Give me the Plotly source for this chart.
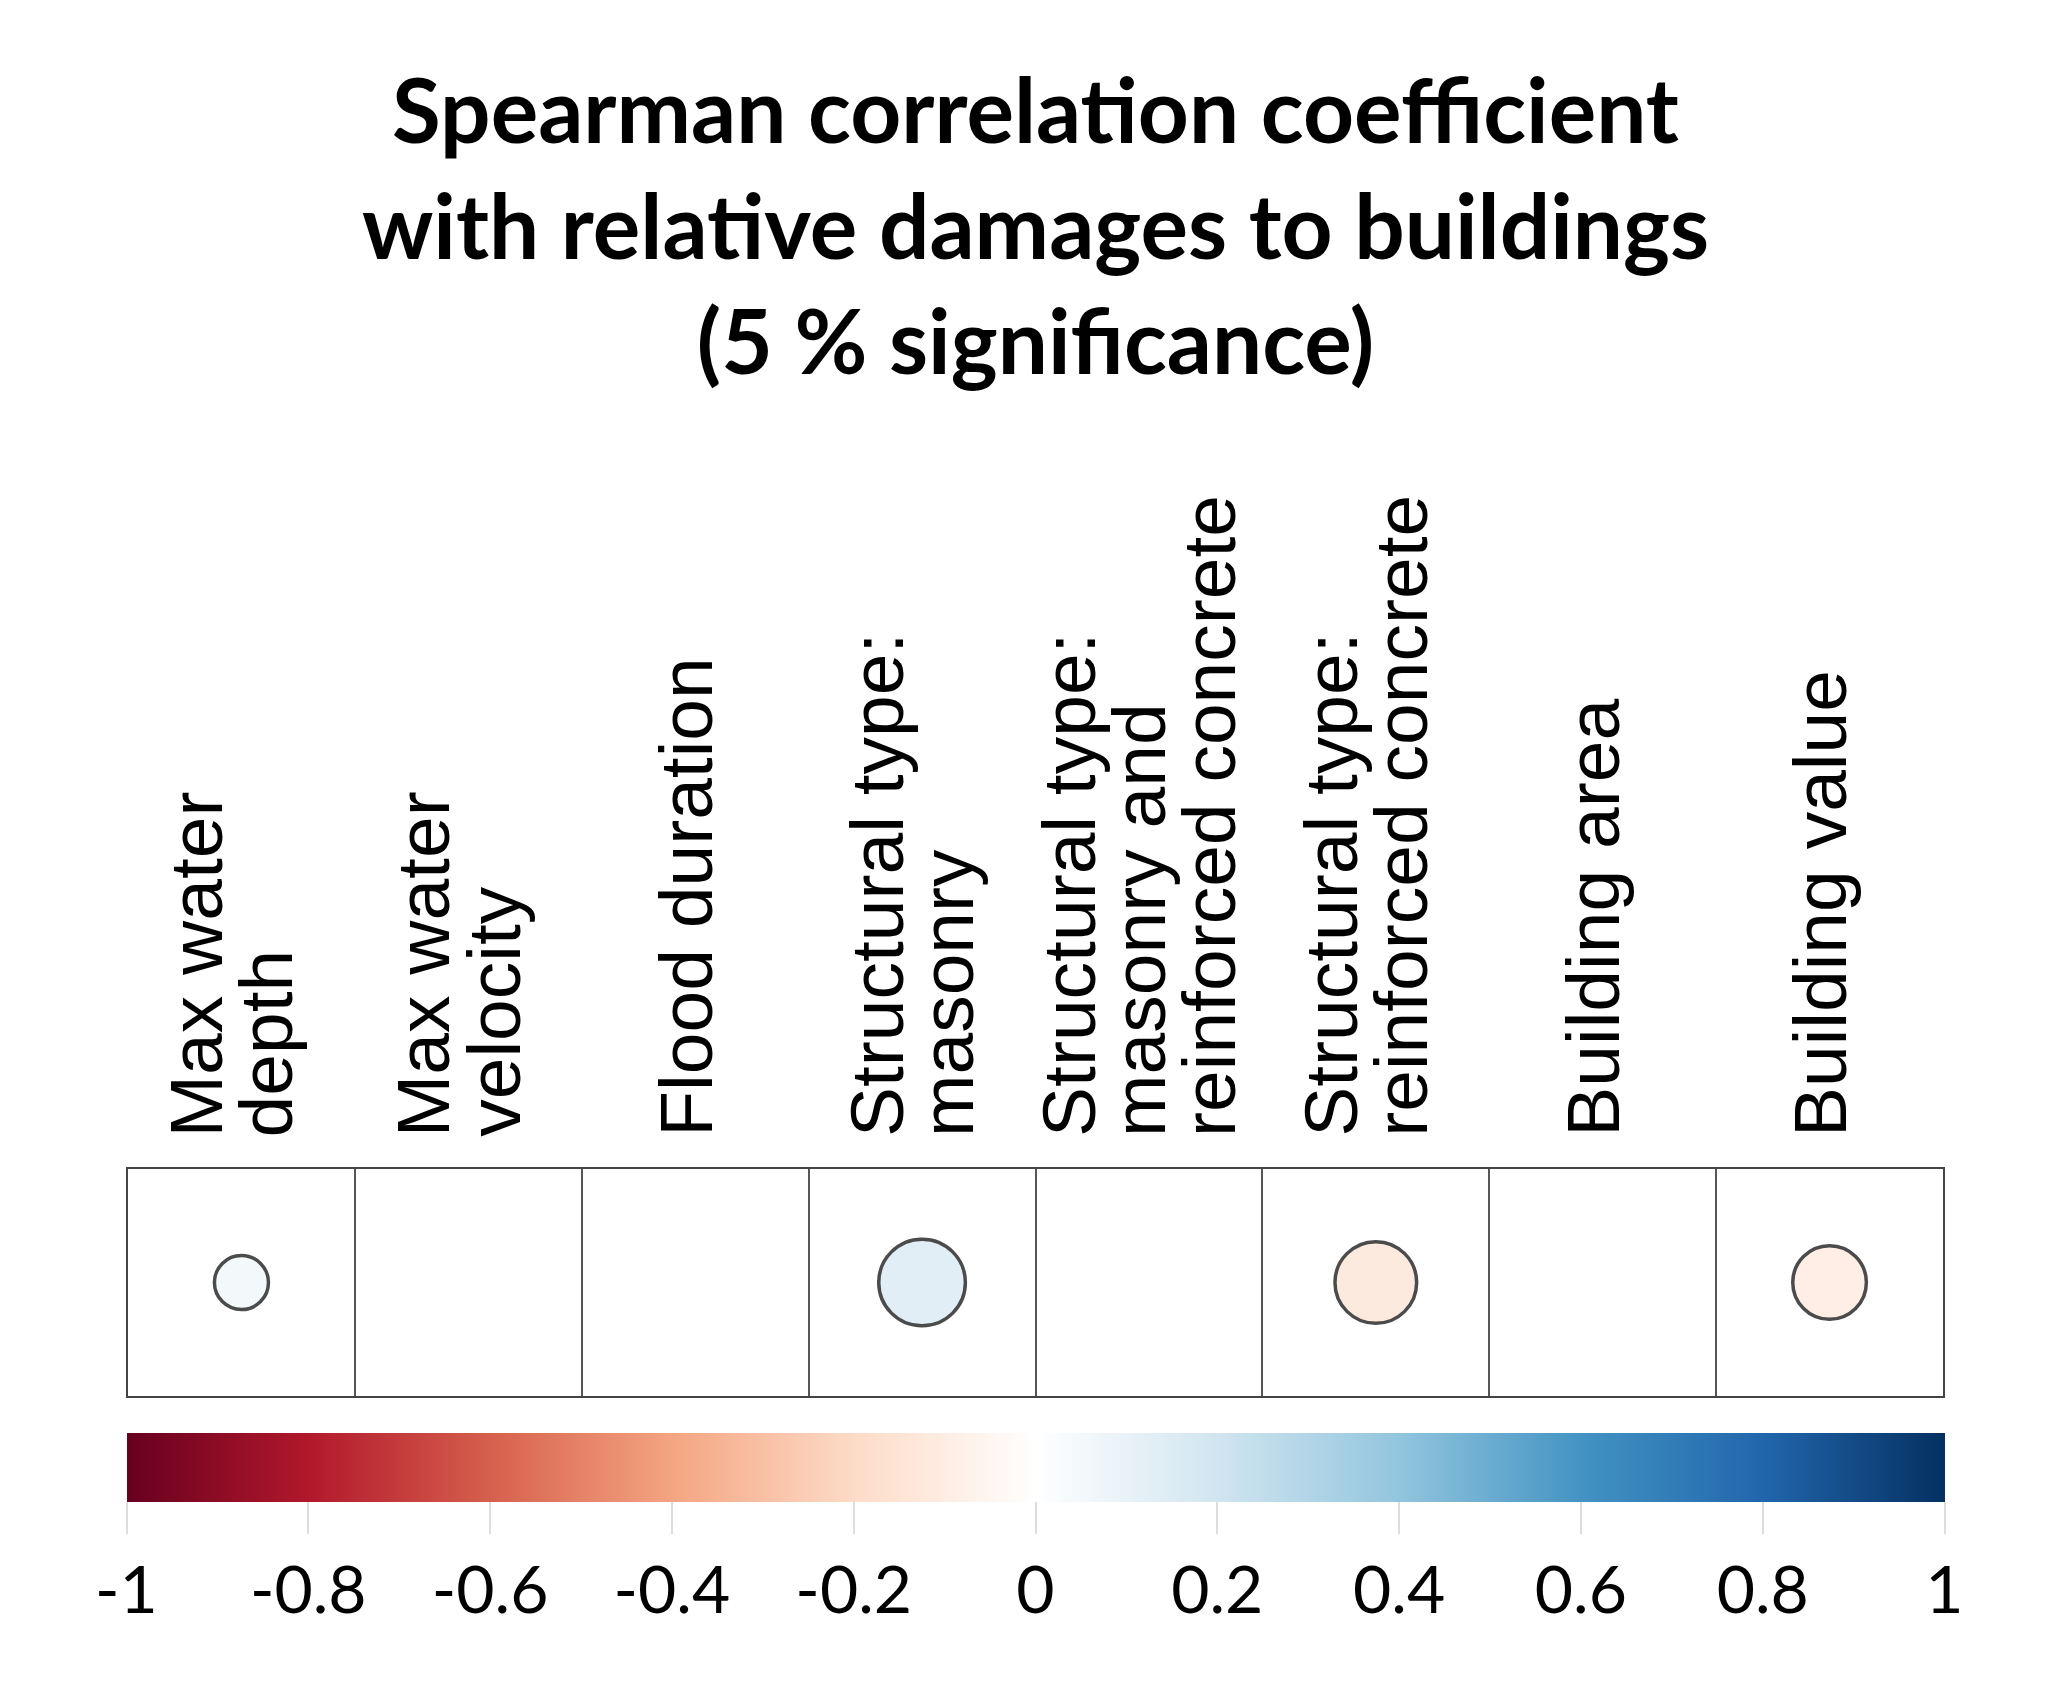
import numpy as np
import plotly.graph_objects as go

# ---- data ----
categories = [
    "Max water\ndepth",
    "Max water\nvelocity",
    "Flood duration",
    "Structural type:\nmasonry",
    "Structural type:\nmasonry and\nreinforced concrete",
    "Structural type:\nreinforced concrete",
    "Building area",
    "Building value",
]
# Spearman rho (None = not significant at 5 %)
rho = [0.07, None, None, 0.18, None, -0.16, None, -0.13]

tick_values = [-1, -0.8, -0.6, -0.4, -0.2, 0, 0.2, 0.4, 0.6, 0.8, 1]
tick_labels = ["-1", "-0.8", "-0.6", "-0.4", "-0.2", "0", "0.2", "0.4", "0.6", "0.8", "1"]

title_lines = [
    "Spearman correlation coefficient",
    "with relative damages to buildings",
    "(5 % significance)",
]

palette = ["#67001F", "#B2182B", "#D6604D", "#F4A582", "#FDDBC7", "#FFFFFF",
           "#D1E5F0", "#92C5DE", "#4393C3", "#2166AC", "#053061"]

# ---- layout geometry ----
W, H = 2067, 1702
ML, MR, MT, MB = 120, 132, 1161, 314
n = len(categories)
cell_px = (W - ML - MR) / n
panel_h = H - MT - MB

colorscale = [[i / (len(palette) - 1), c] for i, c in enumerate(palette)]

xs = [i + 1 for i, v in enumerate(rho) if v is not None]
vals = [v for v in rho if v is not None]
sizes = [0.9 * np.sqrt(abs(v)) * cell_px for v in vals]

fig = go.Figure()
fig.add_trace(go.Scatter(
    x=xs, y=[1] * len(xs), mode="markers",
    marker=dict(
        size=sizes, sizemode="diameter",
        color=vals, colorscale=colorscale, cmin=-1, cmax=1,
        line=dict(color="#000000", width=3.5),
        showscale=True,
        colorbar=dict(
            orientation="h", thickness=69, len=1818, lenmode="pixels",
            x=0.5, xanchor="center", y=-(1425 - (H - MB)) / panel_h, yanchor="top",
            xpad=0, ypad=0, outlinewidth=0,
            tickmode="array", tickvals=tick_values, ticktext=tick_labels,
            ticks="outside", ticklen=32, tickcolor="#dcdcdc", tickwidth=1.5,
            tickfont=dict(family="Lato", size=66, color="black"),
        ),
    ),
    hoverinfo="skip", showlegend=False,
))

# column labels (rotated, one annotation per text line)
line_px = 70
for i, lab in enumerate(categories):
    parts = lab.split("\n")
    k = len(parts)
    for j, p in enumerate(parts):
        fig.add_annotation(
            x=i + 1, xref="x", y=1, yref="paper",
            text=p, showarrow=False, textangle=-90,
            xanchor="center", yanchor="bottom",
            xshift=(j - (k - 1) / 2) * line_px - 10, yshift=30,
            font=dict(family="Liberation Sans", size=75, color="black"),
        )

fig.update_layout(
    width=W, height=H,
    margin=dict(l=ML, r=MR, t=MT, b=MB),
    paper_bgcolor="white", plot_bgcolor="white",
    title=dict(
        text="<br>".join(title_lines),
        x=0.5, xref="paper", xanchor="center",
        y=1 - 135 / H, yref="container", yanchor="middle",
        font=dict(family="Lato", size=89, color="black", weight="bold"),
    ),
    xaxis=dict(
        range=[0.5, n + 0.5], tickmode="array",
        tickvals=[i + 1.5 for i in range(n - 1)],
        showticklabels=False, ticks="", showgrid=True,
        gridcolor="#555555", gridwidth=1.5, zeroline=False,
        showline=True, mirror=True, linecolor="#444444", linewidth=2,
        fixedrange=True,
    ),
    yaxis=dict(
        range=[0.5, 1.5], showticklabels=False, ticks="", showgrid=False,
        zeroline=False, showline=True, mirror=True, linecolor="#444444",
        linewidth=2, fixedrange=True,
    ),
)

fig.write_html("out.html")
